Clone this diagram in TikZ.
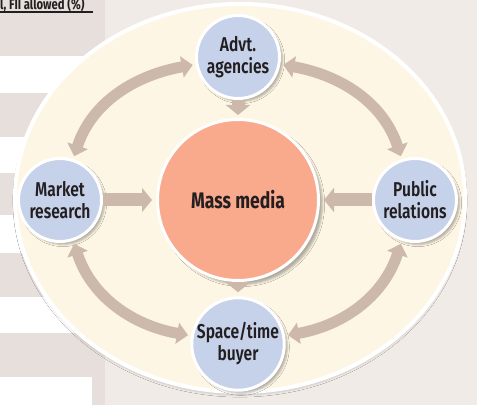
\documentclass[tikz,border=0pt]{standalone}
\usepackage{fontspec}
\setmainfont{Fira Sans}[FakeStretch=0.78, UprightFont=* SemiBold, BoldFont=* Bold]
\usetikzlibrary{arrows.meta,shadows.blur}

\definecolor{bandgrey}{HTML}{E6DFDB}
\definecolor{pagebg}{HTML}{F1EBE7}
\definecolor{cream}{HTML}{FDF6E4}
\definecolor{nodeblue}{HTML}{C6D1EA}
\definecolor{hubsalmon}{HTML}{F9A98C}
\definecolor{flowtan}{HTML}{CDB9AB}
\definecolor{inkdark}{HTML}{231F20}

\begin{document}
\begin{tikzpicture}[x=1pt, y=1pt,
    outer/.style={circle, draw=white, line width=3pt, fill=nodeblue,
      minimum size=83pt, inner sep=0pt, align=center, text=inkdark,
      font=\fontsize{20}{22}\selectfont,
      blur shadow={shadow xshift=3pt, shadow yshift=-3pt, shadow opacity=30}},
    hub/.style={circle, draw=white, line width=3pt, fill=hubsalmon,
      minimum size=161pt, inner sep=0pt, text=inkdark,
      font=\bfseries\fontsize{22.5}{24}\selectfont,
      blur shadow={shadow xshift=4pt, shadow yshift=-4pt, shadow opacity=30}},
    flow/.style={draw=flowtan, line width=11pt,
      >={Triangle[width=21pt, length=11pt]}},
    feed/.style={draw=flowtan, line width=13pt,
      >={Triangle[width=24pt, length=10pt]}}]

  \useasboundingbox (0,0) rectangle (477,405);
  \clip (0,0) rectangle (477,405);

  % table behind
  \fill[pagebg] (0,0) rectangle (477,405);
  \fill[bandgrey] (0,0) rectangle (105,405);
  \foreach \lo/\hi in {312/349, 232/268, 152/190, 72/108}{
    \fill[white] (0,\lo) rectangle (105,\hi);
  }
  \fill[white] (0,0) rectangle (92,28);
  \node[anchor=base west, inner sep=0pt, text=inkdark,
    font=\bfseries\fontsize{14.5}{15}\selectfont] (caption) at (0,395.5) {l, FII allowed (\%)};
  \draw[inkdark, line width=1.5pt] (0,393) -- (93,393);

  % backdrop
  \filldraw[fill=cream, draw=white, line width=4pt,
    blur shadow={shadow xshift=0pt, shadow yshift=-3pt, shadow opacity=15}]
    (240,207) ellipse [x radius=225, y radius=194];

  \node[hub] (media) at (238,205) {Mass media};
  \node[outer] (advt) at (238,348) {Advt.\\agencies};
  \node[outer] (market) at (60,205) {Market\\research};
  \node[outer] (pr) at (415,205) {Public\\relations};
  \node[outer] (buyer) at (238,61) {Space/time\\buyer};

  \draw[feed,->,shorten >=3pt] (advt) -- (media);
  \draw[feed,->,shorten >=4pt] (media) -- (buyer);
  \draw[feed,->,shorten >=4pt] (market) -- (media);
  \draw[feed,->,shorten >=4pt] (pr) -- (media);

  \draw[flow,<->,shorten <=3pt,shorten >=3pt] (market) to[out=72,in=190] (advt);
  \draw[flow,<->,shorten <=3pt,shorten >=3pt] (pr) to[out=108,in=-10] (advt);
  \draw[flow,<->,shorten <=3pt,shorten >=3pt] (market) to[out=-72,in=170] (buyer);
  \draw[flow,<->,shorten <=3pt,shorten >=3pt] (pr) to[out=-108,in=10] (buyer);
\end{tikzpicture}
\end{document}
